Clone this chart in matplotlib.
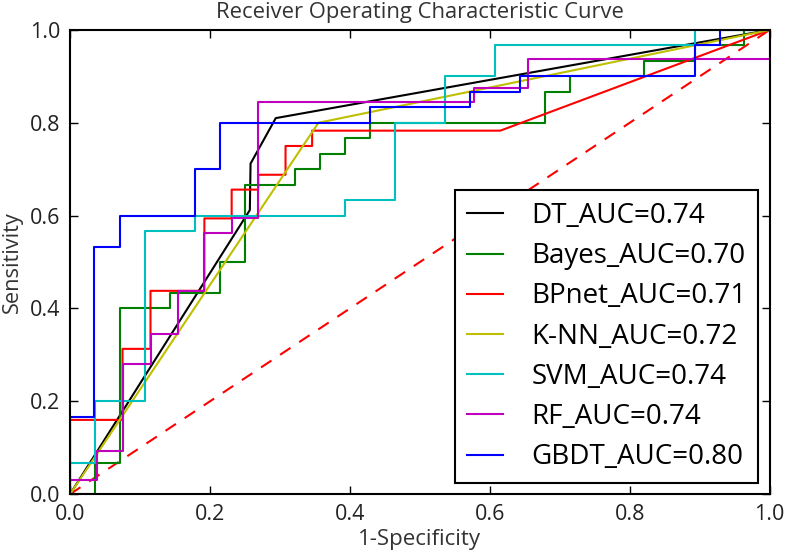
import matplotlib
matplotlib.use('Agg')
import matplotlib.pyplot as plt

# ROC 曲线数据
dt_fpr = [0.0, 0.257, 0.258, 0.294, 1.0]
dt_tpr = [0.0, 0.612, 0.712, 0.810, 1.0]

bayes_fpr = [0.0, 0.036, 0.036, 0.071, 0.071, 0.143, 0.143, 0.214, 0.214, 0.25, 0.25,
             0.321, 0.321, 0.357, 0.357, 0.393, 0.393, 0.429, 0.429, 0.679, 0.679,
             0.714, 0.714, 0.821, 0.821, 0.893, 0.893, 0.964, 0.964, 1.0]
bayes_tpr = [0.0, 0.0, 0.067, 0.067, 0.4, 0.4, 0.433, 0.433, 0.5, 0.5, 0.667,
             0.667, 0.7, 0.7, 0.733, 0.733, 0.767, 0.767, 0.8, 0.8, 0.867,
             0.867, 0.9, 0.9, 0.933, 0.933, 0.967, 0.967, 1.0, 1.0]

bp_fpr = [0.0, 0.0, 0.075, 0.075, 0.115, 0.115, 0.192, 0.192, 0.231, 0.231,
          0.269, 0.269, 0.308, 0.308, 0.346, 0.346, 0.615, 1.0]
bp_tpr = [0.0, 0.16, 0.16, 0.313, 0.313, 0.438, 0.438, 0.594, 0.594, 0.656,
          0.656, 0.688, 0.688, 0.75, 0.75, 0.783, 0.783, 1.0]

knn_fpr = [0.0, 0.355, 1.0]
knn_tpr = [0.0, 0.80, 1.0]

svm_fpr = [0.0, 0.0, 0.036, 0.036, 0.107, 0.107, 0.179, 0.179, 0.393, 0.393,
           0.464, 0.464, 0.536, 0.536, 0.607, 0.607, 0.893, 0.893, 1.0]
svm_tpr = [0.0, 0.067, 0.067, 0.2, 0.2, 0.567, 0.567, 0.6, 0.6, 0.633,
           0.633, 0.8, 0.8, 0.9, 0.9, 0.967, 0.967, 1.0, 1.0]

rf_fpr = [0.0, 0.0, 0.038, 0.038, 0.075, 0.075, 0.115, 0.115, 0.154, 0.154,
          0.192, 0.192, 0.231, 0.231, 0.269, 0.269, 0.577, 0.577, 0.654, 0.654, 1.0, 1.0]
rf_tpr = [0.0, 0.031, 0.031, 0.094, 0.094, 0.281, 0.281, 0.344, 0.344, 0.438,
          0.438, 0.563, 0.563, 0.594, 0.594, 0.844, 0.844, 0.875, 0.875, 0.938, 0.938, 1.0]

gbdt_fpr = [0.0, 0.0, 0.034, 0.034, 0.071, 0.071, 0.179, 0.179, 0.214, 0.214,
            0.429, 0.429, 0.571, 0.571, 0.643, 0.643, 0.893, 0.893, 0.929, 0.929, 1.0]
gbdt_tpr = [0.0, 0.167, 0.167, 0.533, 0.533, 0.6, 0.6, 0.7, 0.7, 0.8,
            0.8, 0.833, 0.833, 0.867, 0.867, 0.9, 0.9, 0.967, 0.967, 1.0, 1.0]

labels = ['DT_AUC=0.74', 'Bayes_AUC=0.70', 'BPnet_AUC=0.71', 'K-NN_AUC=0.72',
          'SVM_AUC=0.74', 'RF_AUC=0.74', 'GBDT_AUC=0.80']
colors = ['k', (0, 0.5, 0), (1, 0, 0), (0.75, 0.75, 0), (0, 0.75, 0.75), (0.75, 0, 0.75), (0, 0, 1)]

plt.rcParams['font.family'] = ['Open Sans', 'DejaVu Sans']
plt.rcParams['xtick.direction'] = 'in'
plt.rcParams['ytick.direction'] = 'in'
plt.rcParams['xtick.top'] = True
plt.rcParams['ytick.right'] = True

fig = plt.figure(figsize=(7.87, 5.54), dpi=100)
ax = fig.add_axes([0.089, 0.108, 0.889, 0.838])

ax.plot([0, 1], [0, 1], color='r', lw=1.5, linestyle=(0, (6, 5)))  # 随机猜测线

curves = [(dt_fpr, dt_tpr), (bayes_fpr, bayes_tpr), (bp_fpr, bp_tpr), (knn_fpr, knn_tpr),
          (svm_fpr, svm_tpr), (rf_fpr, rf_tpr), (gbdt_fpr, gbdt_tpr)]
for (fx, ty), lab, c in zip(curves, labels, colors):
    ax.plot(fx, ty, color=c, lw=1.5, label=lab)

ax.set_xlim(0, 1)
ax.set_ylim(0, 1)
ax.set_xticks([0, 0.2, 0.4, 0.6, 0.8, 1.0])
ax.set_yticks([0, 0.2, 0.4, 0.6, 0.8, 1.0])
ax.set_xticklabels(['0.0', '0.2', '0.4', '0.6', '0.8', '1.0'])
ax.set_yticklabels(['0.0', '0.2', '0.4', '0.6', '0.8', '1.0'])
ax.tick_params(labelsize=15.5, length=6, width=1, pad=7, colors='k', labelcolor='#222222')
for s in ax.spines.values():
    s.set_linewidth(1.5)

ax.set_title('Receiver Operating Characteristic Curve', fontsize=15.8, color='#333333', pad=8.3)
ax.set_xlabel('1-Specificity', fontsize=16, color='#333333', labelpad=3)
ax.set_ylabel('Sensitivity', fontsize=15.7, color='#333333', labelpad=5)

leg = ax.legend(loc='lower right', bbox_to_anchor=(0.984, 0.024), borderaxespad=0,
                fontsize=20, fancybox=False, framealpha=1, edgecolor='k',
                handlelength=1.3, handletextpad=1.04, labelspacing=0.44, borderpad=0.42)
leg.get_frame().set_linewidth(1.5)

fig.savefig('out.png', dpi=100, facecolor='white')
